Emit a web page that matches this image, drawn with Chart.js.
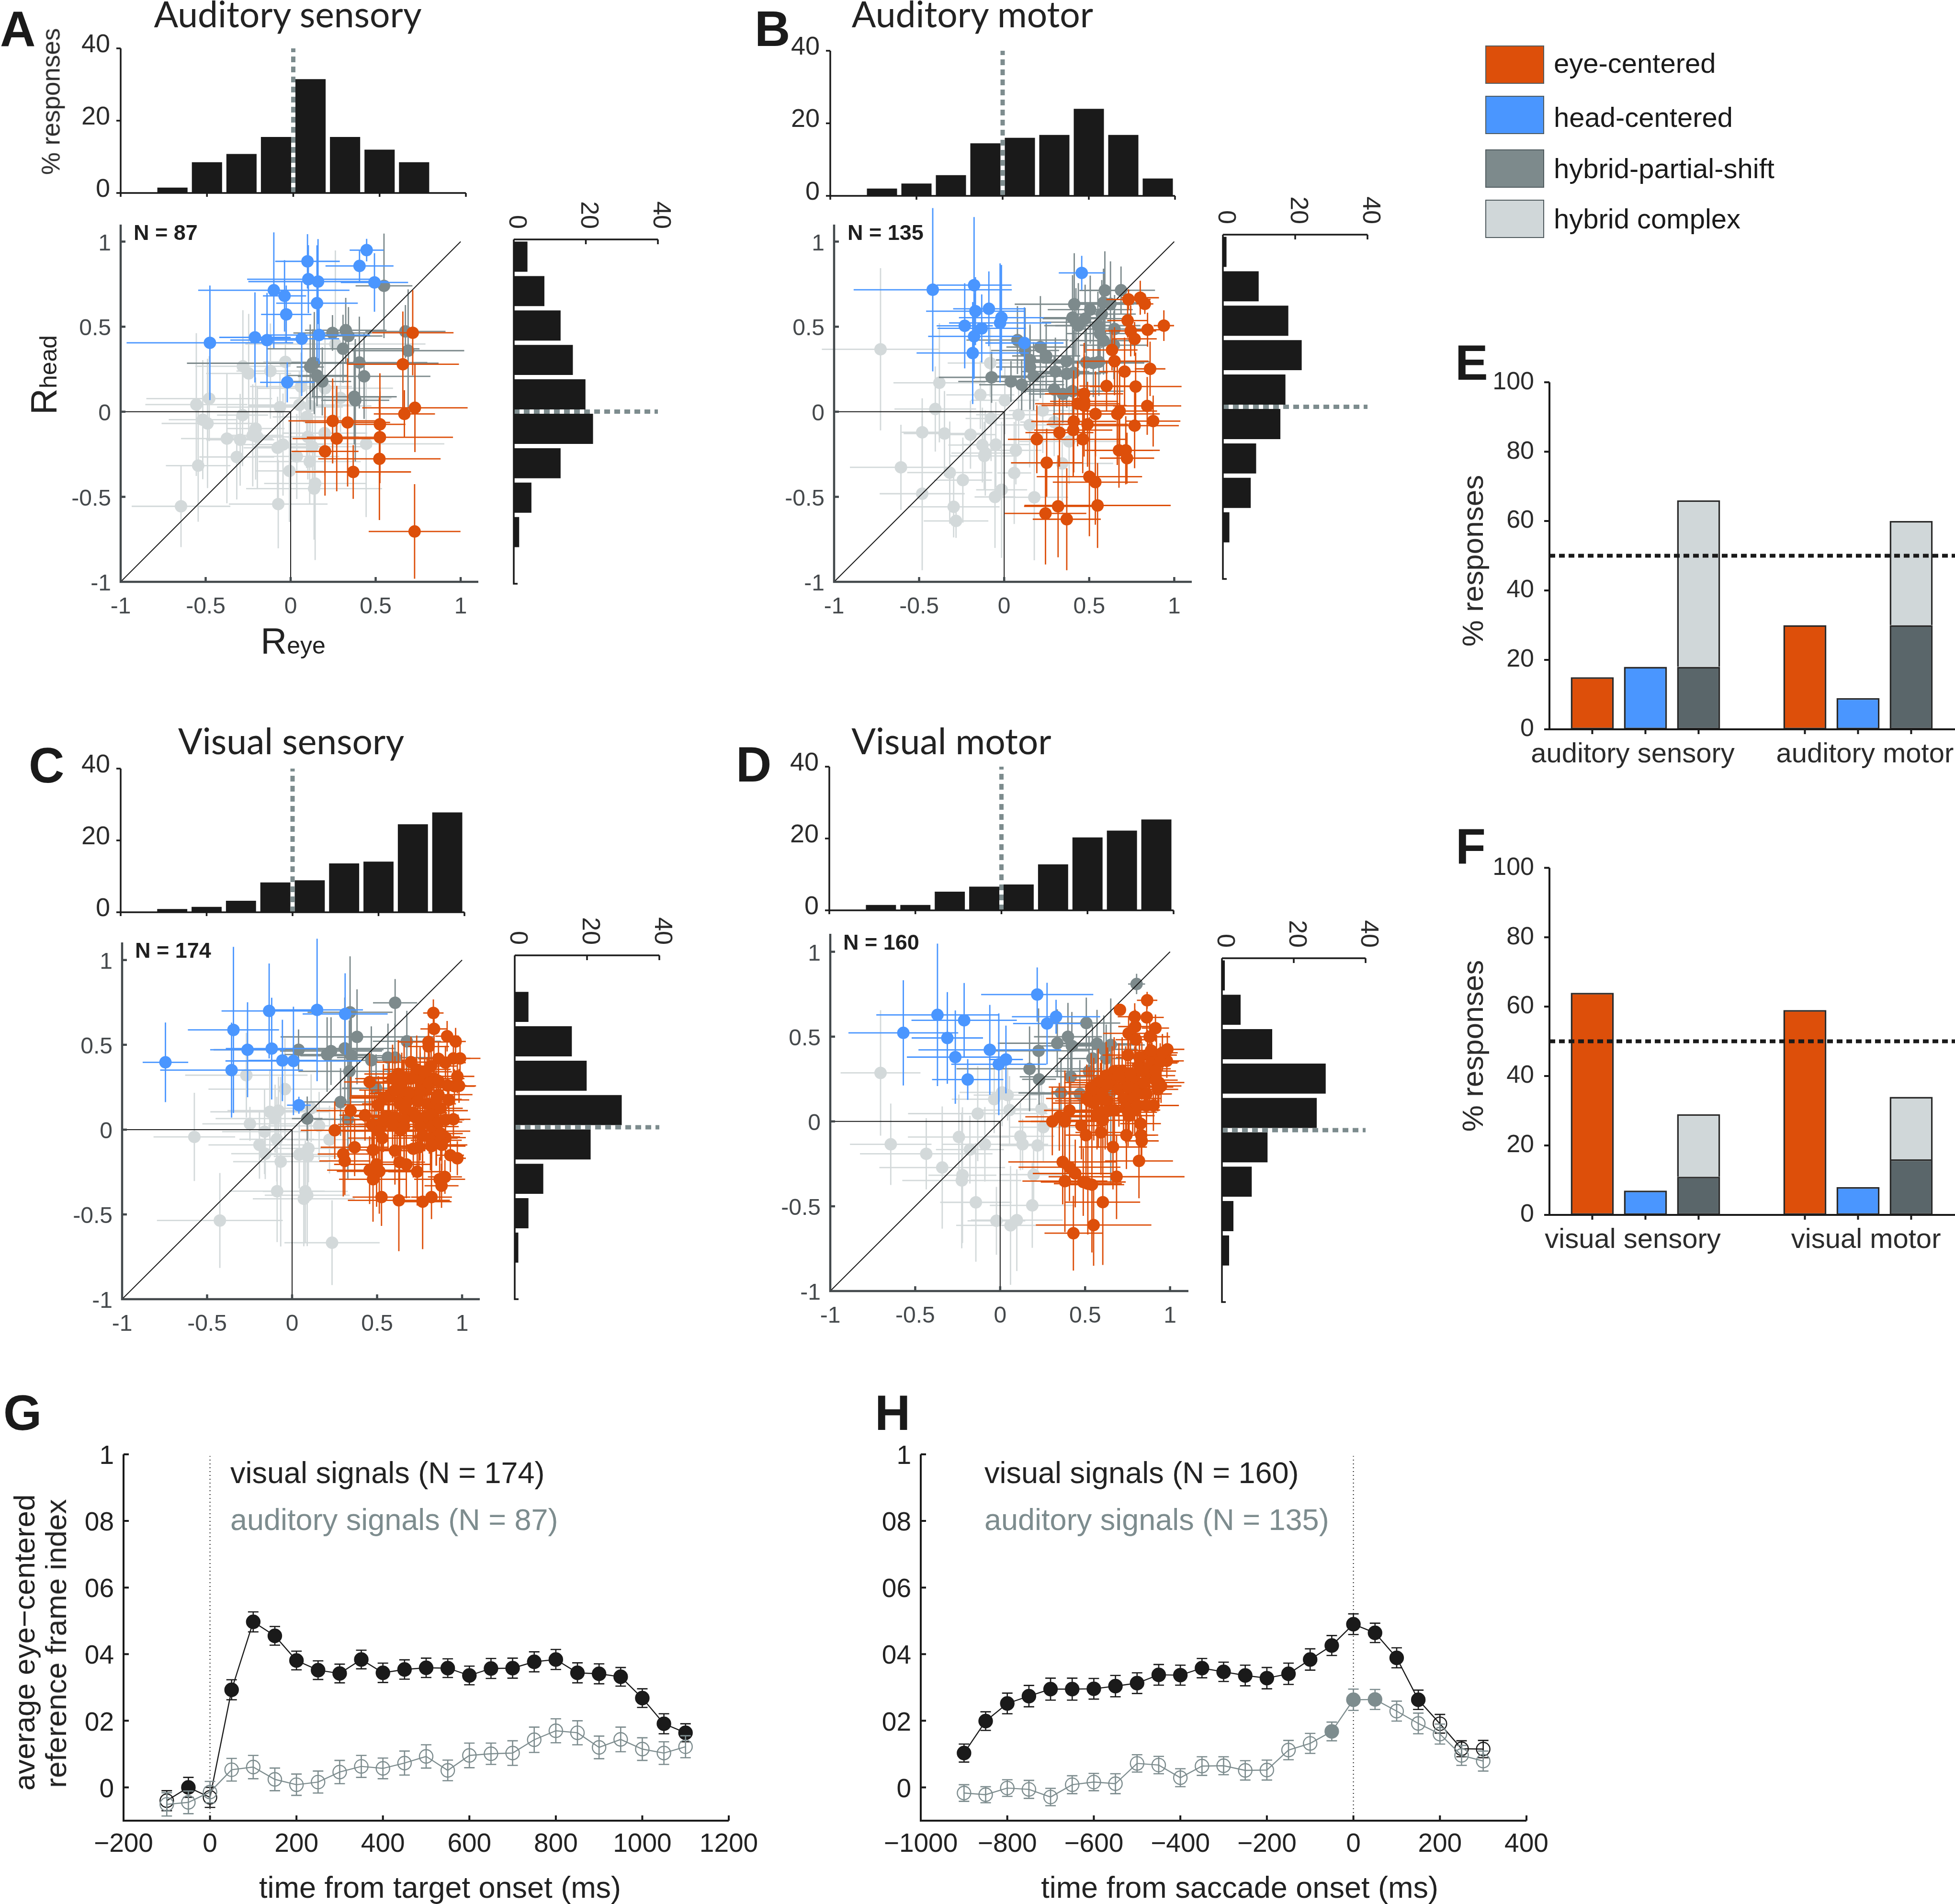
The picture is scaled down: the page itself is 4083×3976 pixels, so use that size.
<!DOCTYPE html>
<html>
<head>
<meta charset="utf-8">
<title>Reference frames</title>
<script src="https://cdn.jsdelivr.net/npm/chart.js@4"></script>
<style>
html, body { margin: 0; padding: 0; background: #fff; }
#page { position: relative; width: 4083px; height: 3976px; overflow: hidden; background: #fff; }
#page canvas { position: absolute; }
.txt { position: absolute; white-space: nowrap; line-height: 1; font-family: "Liberation Sans", Arial, sans-serif; }
</style>
</head>
<body>
<div id="page"></div>
<script>
// histogram bins, shared by all the marginal plots
const binCenters = [-0.9, -0.7, -0.5, -0.3, -0.1, 0.1, 0.3, 0.5, 0.7, 0.9];
const histTicks = [0, 20, 40];
const rTicks = [-1, -0.5, 0, 0.5, 1];

// marginal histograms (% responses per bin)
const aEyeHist = [0, 1.5, 8.5, 10.8, 15.5, 31.5, 15.5, 12, 8.5, 0];
const aHeadHist = [0, 1.5, 4.9, 13, 22, 19.9, 16.4, 13, 8.5, 3.8];
const bEyeHist = [0, 2, 3.4, 5.7, 14.5, 16, 16.8, 24, 16.8, 4.8];
const bHeadHist = [0, 1.8, 7.7, 9.2, 15.9, 17.3, 21.8, 18.1, 9.9, 1];
const cEyeHist = [0, 0.9, 1.5, 3.2, 8.3, 8.9, 13.6, 14.1, 24.5, 27.8];
const cHeadHist = [0, 1, 3.8, 7.9, 21, 29.6, 19.9, 15.8, 3.8, 0];
const dEyeHist = [0, 1.5, 1.5, 5.2, 6.6, 7.2, 12.8, 20.3, 22.2, 25.3];
const dHeadHist = [0, 2, 3.2, 8.3, 12.7, 26.4, 28.9, 14, 5.2, 0.8];

// scatter rows are [Reye, Rhead, error in Reye, error in Rhead]
const aHead = [[-.475,.405,.49,.337],[.099,.884,.19,.16],[.104,.779,.36,.2],[.161,.765,.41,.25],[-.099,.714,.445,.34],[-.036,.681,.127,.21],[.155,.638,.24,.34],[-.026,.572,.148,.17],[.447,.95,.1,.066],[.405,.857,.2,.09],[.493,.76,.198,.172],[-.21,.437,.21,.265],[-.139,.421,.216,.277],[.065,.429,.22,.337],[.167,.451,.3,.17],[-.02,.173,.16,.118]];
const aPartial = [[.549,.74,.167,.307],[.246,.463,.23,.105],[.324,.479,.24,.19],[.34,.445,.2,.17],[.308,.37,.45,.2],[.675,.472,.236,.155],[.691,.359,.33,.36],[.13,.285,.74,.2],[.139,.286,.2,.3],[.115,.263,.08,.25],[.155,.213,.18,.18],[.186,.178,.17,.2],[.404,.289,.4,.27],[.432,.208,.39,.25],[.374,.088,.25,.28],[.38,.067,.2,.36]];
const aEye = [[.718,.464,.24,.25],[.66,.279,.33,.31],[.731,.023,.31,.26],[.669,-.013,.18,.14],[.247,-.054,.26,.25],[.335,-.063,.25,.377],[.525,-.074,.15,.3],[.525,-.15,.43,.27],[.271,-.158,.26,.31],[.202,-.233,.197,.26],[.522,-.277,.36,.36],[.368,-.354,.34,.158],[.729,-.704,.27,.278]];
const aComplex = [[-.645,-.556,.29,.24],[-.544,-.317,.19,.33],[-.555,.042,.3,.42],[-.479,.077,.37,.25],[-.517,-.047,.2,.35],[-.489,-.069,.27,.38],[-.283,-.02,.15,.3],[-.281,.267,.28,.33],[-.247,.225,.25,.35],[-.119,.239,.2,.28],[-.031,.293,.13,.25],[-.375,-.158,.27,.38],[-.297,-.165,.2,.27],[-.206,-.099,.17,.3],[-.223,-.139,.18,.3],[-.196,-.148,.15,.3],[-.317,-.266,.22,.25],[-.077,-.212,.2,.3],[-.045,-.193,.25,.3],[-.063,.027,.37,.2],[.061,.148,.3,.2],[.202,.138,.4,.3],[.263,.398,.53,.55],[.051,.04,.3,.2],[.115,.034,.36,.2],[.094,-.031,.2,.3],[.293,.081,.3,.2],[.2,-.126,.25,.25],[.101,-.148,.3,.25],[.128,-.206,.35,.2],[.444,-.189,.46,.43],[.036,-.263,.25,.25],[.112,-.293,.3,.25],[-.007,-.348,.2,.3],[.144,-.422,.3,.45],[.138,-.452,.4,.3],[-.073,-.543,.29,.26]];

const bHead = [[-.42,.717,.465,.48],[-.177,.744,.22,.4],[-.169,.591,.29,.2],[-.09,.605,.21,.22],[-.016,.553,.25,.31],[-.024,.522,.3,.35],[-.232,.505,.165,.25],[-.132,.49,.26,.2],[-.177,.443,.27,.25],[-.185,.345,.33,.3],[.119,.404,.23,.21],[.456,.816,.135,.1]];
const bPartial = [[.592,.713,.15,.23],[.687,.714,.2,.14],[.412,.632,.35,.3],[.584,.641,.2,.2],[.625,.634,.2,.25],[.506,.6,.25,.2],[.402,.553,.2,.25],[.476,.547,.25,.2],[.436,.506,.2,.25],[.422,.526,.2,.2],[.574,.574,.2,.2],[.551,.506,.25,.2],[.564,.459,.2,.2],[.584,.418,.2,.2],[.649,.486,.2,.2],[.645,.391,.2,.2],[.078,.421,.3,.2],[.123,.36,.2,.25],[.213,.38,.2,.3],[.247,.328,.2,.2],[.152,.304,.2,.2],[.152,.263,.2,.25],[.366,.297,.2,.25],[.483,.29,.3,.2],[.524,.286,.3,.2],[.557,.293,.3,.2],[.301,.236,.2,.2],[.368,.223,.2,.2],[.409,.229,.2,.25],[.173,.209,.25,.2],[-.074,.202,.31,.15],[.04,.178,.31,.12],[.103,.159,.25,.15],[.294,.131,.2,.2],[.345,.104,.2,.17],[.402,.121,.3,.2]];
const bEye = [[.731,.66,.13,.06],[.8,.67,.11,.1],[.827,.634,.05,.06],[.726,.536,.12,.1],[.939,.506,.06,.09],[.744,.475,.15,.15],[.843,.482,.12,.1],[.767,.428,.13,.1],[.634,.363,.15,.12],[.649,.297,.2,.2],[.858,.252,.09,.16],[.708,.236,.15,.2],[.602,.151,.16,.15],[.773,.148,.27,.2],[.47,.105,.23,.3],[.47,.061,.2,.25],[.432,.047,.25,.25],[.47,.036,.25,.3],[.841,.034,.2,.17],[.537,-.013,.25,.25],[.665,-.013,.25,.3],[.679,.004,.22,.25],[.767,-.082,.26,.25],[.876,-.055,.16,.15],[.409,-.057,.25,.3],[.49,-.074,.24,.25],[.406,-.108,.23,.27],[.325,-.123,.2,.2],[.192,-.162,.17,.2],[.462,-.162,.25,.2],[.675,-.227,.2,.22],[.715,-.227,.2,.2],[.722,-.273,.16,.15],[.25,-.3,.21,.2],[.501,-.382,.31,.35],[.536,-.414,.25,.25],[.549,-.551,.43,.25],[.317,-.556,.2,.3],[.243,-.598,.24,.3],[.368,-.632,.2,.3]];
const bComplex = [[-.727,.367,.345,.477],[-.381,.17,.27,.35],[-.14,.099,.2,.2],[-.405,.016,.24,.25],[-.082,.286,.25,.2],[.004,.067,.2,.2],[-.077,-.04,.15,.25],[.085,-.018,.25,.2],[.227,.007,.2,.25],[.15,-.078,.2,.25],[.294,-.061,.2,.2],[-.482,-.121,.12,.2],[-.351,-.128,.24,.25],[-.198,-.135,.15,.2],[-.128,-.196,.2,.22],[-.049,-.193,.2,.25],[-.111,-.243,.2,.25],[-.117,-.26,.2,.2],[.069,-.227,.15,.2],[.382,-.175,.3,.25],[-.607,-.327,.3,.25],[-.32,-.358,.25,.3],[-.243,-.402,.17,.25],[.059,-.36,.1,.3],[.341,-.304,.3,.3],[-.482,-.482,.25,.45],[-.015,-.459,.15,.4],[-.054,-.501,.12,.3],[.177,-.503,.2,.37],[-.297,-.559,.27,.18],[-.283,-.642,.19,.1]];

const cHead = [[-.745,.397,.134,.235],[-.345,.588,.268,.49],[-.262,.471,.22,.28],[-.135,.7,.28,.28],[.147,.706,.27,.42],[.312,.682,.25,.24],[-.12,.478,.27,.3],[-.057,.408,.2,.24],[.008,.405,.4,.32],[-.356,.351,.42,.28],[.04,.144,.07,.05]];
const cPartial = [[.606,.748,.13,.14],[.341,.692,.25,.33],[.382,.547,.45,.28],[.038,.471,.5,.12],[.229,.463,.3,.2],[.206,.443,.25,.22],[.31,.479,.3,.3],[.348,.436,.3,.25],[.466,.409,.25,.2],[.564,.425,.3,.2],[.605,.425,.25,.2],[.675,.521,.2,.18],[.337,.344,.3,.3],[.285,.163,.25,.2],[.494,.244,.2,.2],[.328,.061,.2,.35],[.089,.065,.09,.13]];
const cEye = [[.831,.688,.06,.08],[.835,.594,.08,.11],[.912,.551,.07,.09],[.962,.52,.06,.08],[.802,.517,.18,.11],[.803,.49,.12,.12],[.861,.418,.12,.1],[.949,.42,.1,.09],[.988,.42,.12,.1],[.699,.398,.2,.15],[.818,.375,.15,.12],[.902,.395,.12,.1],[.733,.355,.2,.2],[.625,.328,.2,.2],[.659,.308,.2,.2],[.972,.314,.1,.1],[.753,.287,.22,.2],[.834,.301,.18,.18],[.955,.256,.12,.1],[.456,.281,.15,.17],[.982,.258,.1,.1],[.652,.213,.2,.2],[.794,.247,.2,.18],[.571,.193,.22,.2],[.537,.186,.2,.2],[.507,.146,.2,.17],[.672,.166,.2,.2],[.74,.179,.2,.2],[.861,.206,.2,.2],[.922,.175,.12,.1],[.713,.099,.2,.2],[.834,.112,.2,.2],[.344,.112,.2,.2],[.429,.085,.15,.15],[.564,.078,.2,.2],[.618,.051,.2,.2],[.949,.061,.1,.1],[.807,.058,.15,.2],[.47,.031,.2,.2],[.524,.018,.2,.2],[.638,-.003,.2,.2],[.251,-.004,.2,.17],[.848,-.009,.2,.2],[.53,-.05,.2,.2],[.902,-.047,.12,.12],[.848,-.063,.15,.15],[.368,-.104,.2,.17],[.476,-.12,.17,.2],[.605,-.124,.17,.2],[.713,-.113,.2,.17],[.746,-.104,.17,.17],[.82,-.097,.2,.17],[.881,-.09,.15,.15],[.301,-.144,.15,.25],[.31,-.185,.15,.2],[.931,-.151,.08,.1],[.972,-.169,.05,.1],[.632,-.192,.15,.2],[.672,-.205,.15,.2],[.497,-.205,.25,.25],[.456,-.239,.25,.2],[.513,-.246,.25,.25],[.476,-.293,.2,.25],[.736,-.248,.17,.2],[.868,-.293,.15,.13],[.899,-.279,.1,.1],[.879,-.331,.1,.13],[.526,-.398,.17,.17],[.628,-.417,.3,.3],[.768,-.425,.17,.28],[.82,-.398,.12,.13],
    [.591,.301,.22,.2],[.645,.274,.2,.18],[.699,.301,.18,.2],[.78,.341,.16,.17],[.753,.233,.2,.22],[.807,.274,.16,.18],[.861,.287,.14,.16],[.686,.22,.2,.18],[.74,.166,.18,.22],[.794,.152,.17,.2],[.848,.179,.15,.17],[.632,.152,.22,.2],[.672,.112,.2,.19],[.726,.072,.18,.21],[.78,.072,.17,.2],[.82,.085,.16,.18],[.874,.126,.13,.15],[.605,.072,.21,.2],[.659,.058,.19,.22],[.753,.018,.18,.2],[.82,.018,.16,.19],[.861,.045,.14,.16],[.571,.2,.23,.18],[.605,.233,.21,.2],[.915,.26,.11,.13],[.659,.018,.2,.22],[.767,-.036,.17,.21],[.814,-.05,.16,.19],[.848,-.043,.14,.17],[.874,-.023,.13,.16],[.483,.018,.24,.2],[.51,-.009,.22,.22],[.537,.058,.23,.19],[.902,.058,.11,.14],[.591,.031,.2,.2],[.82,-.09,.15,.17]];
const cComplex = [[-.575,-.043,.24,.26],[-.425,-.536,.37,.28],[.235,-.667,.28,.25],[-.088,-.363,.28,.3],[.078,-.364,.25,.3],[.089,-.387,.25,.3],[.069,-.408,.3,.28],[-.269,.321,.36,.25],[-.042,.239,.45,.3],[-.131,.105,.35,.25],[-.08,.112,.3,.2],[-.1,.065,.35,.2],[-.248,.034,.28,.1],[-.162,-.012,.25,.25],[-.09,-.057,.22,.25],[-.192,-.09,.3,.2],[-.158,-.142,.2,.15],[-.067,-.189,.28,.5],[.042,-.147,.2,.2],[.096,-.111,.2,.2],[.092,-.158,.2,.2],[.159,.022,.3,.2],[.112,.126,.2,.2],[.22,-.059,.25,.2]];

const dHead = [[-.57,.522,.323,.31],[-.369,.628,.36,.42],[-.212,.596,.31,.22],[-.311,.492,.21,.27],[-.264,.379,.285,.275],[-.061,.422,.42,.265],[.034,.365,.1,.2],[-.008,.337,.28,.3],[-.191,.247,.21,.12],[.218,.748,.33,.16],[.329,.617,.26,.1],[.276,.577,.2,.24]];
const dPartial = [[.803,.81,.05,.06],[.507,.58,.2,.15],[.399,.499,.2,.2],[.336,.461,.35,.2],[.422,.445,.2,.2],[.226,.416,.3,.25],[.57,.458,.25,.2],[.651,.451,.2,.2],[.61,.425,.2,.2],[.543,.371,.2,.2],[.624,.371,.2,.2],[.173,.31,.43,.25],[.229,.248,.1,.15],[.523,.296,.2,.2],[.415,.263,.3,.25],[.358,.168,.25,.2],[.469,.162,.3,.2],[.651,.175,.2,.55]];
const dEye = [[.865,.714,.06,.05],[.705,.658,.03,.03],[.792,.617,.1,.08],[.863,.613,.1,.1],[.795,.559,.1,.1],[.914,.55,.08,.08],[.756,.519,.15,.1],[.799,.482,.12,.1],[.88,.499,.12,.1],[.984,.425,.1,.1],[.752,.391,.15,.13],[.92,.391,.12,.12],[.867,.391,.15,.15],[.981,.357,.1,.1],[.819,.33,.15,.15],[.894,.344,.15,.12],[.671,.296,.2,.2],[.718,.296,.2,.2],[.624,.27,.2,.2],[.577,.229,.2,.2],[.536,.202,.25,.2],[.739,.243,.2,.2],[.792,.243,.2,.2],[.88,.27,.15,.15],[.934,.229,.15,.15],[.947,.209,.12,.1],[.819,.202,.2,.2],[.523,.121,.2,.2],[.597,.162,.2,.2],[.631,.121,.2,.2],[.739,.121,.2,.2],[.806,.162,.2,.2],[.902,.094,.15,.15],[.408,.065,.15,.2],[.631,.061,.2,.2],[.57,.034,.2,.2],[.759,.034,.15,.15],[.792,.067,.15,.15],[.348,.027,.2,.2],[.307,0,.2,.2],[.381,0,.2,.3],[.604,.007,.2,.15],[.826,-.013,.12,.12],[.478,-.024,.12,.2],[.505,-.081,.12,.3],[.593,-.065,.15,.25],[.743,-.081,.17,.2],[.83,-.081,.1,.12],[.833,-.115,.1,.12],[.664,-.151,.2,.25],[.817,-.233,.2,.22],[.368,-.239,.32,.25],[.408,-.27,.3,.2],[.442,-.307,.25,.2],[.685,-.326,.4,.25],[.381,-.352,.25,.3],[.489,-.357,.25,.2],[.516,-.367,.2,.3],[.54,-.373,.19,.4],[.604,-.476,.22,.37],[.55,-.611,.34,.24],[.431,-.659,.17,.22],
    [.659,.243,.22,.2],[.699,.27,.2,.19],[.767,.283,.18,.2],[.834,.297,.15,.17],[.874,.31,.13,.15],[.942,.351,.11,.11],[.632,.216,.22,.22],[.551,.175,.25,.2],[.591,.135,.22,.21],[.699,.189,.2,.22],[.753,.202,.18,.2],[.848,.229,.15,.17],[.915,.243,.13,.14],[.726,.135,.19,.2],[.78,.135,.17,.21],[.861,.162,.15,.17],[.928,.189,.12,.13],[.551,.108,.24,.22],[.672,.067,.2,.23],[.74,.081,.18,.21],[.807,.094,.16,.19],[.861,.094,.14,.16],[.51,.135,.24,.2],[.618,.054,.21,.22],[.753,.054,.17,.2],[.578,.054,.22,.21],[.915,.297,.12,.14],[.955,.405,.09,.11],[.888,.418,.12,.12],[.82,.378,.14,.14]];
const dComplex = [[-.704,.286,.235,.37],[-.644,-.135,.24,.24],[-.435,-.191,.39,.21],[-.341,-.272,.37,.36],[-.243,-.092,.3,.25],[-.132,.046,.41,.28],[-.035,.131,.25,.2],[.011,.171,.25,.2],[.044,.155,.2,.15],[.055,.067,.2,.2],[-.178,-.166,.2,.2],[-.09,-.135,.25,.22],[.119,-.088,.2,.2],[.132,-.135,.15,.15],[.22,-.142,.22,.2],[.254,-.034,.2,.2],[.243,.074,.2,.2],[-.222,-.317,.2,.4],[-.226,-.348,.35,.4],[.197,-.314,.2,.2],[-.143,-.477,.21,.35],[.189,-.495,.25,.25],[-.022,-.586,.17,.2],[.098,-.582,.27,.3],[.061,-.613,.32,.35]];

// E, F: bar positions on the x axis and % responses per class
const barTicks = [1, 2, 3, 5, 6, 7];
const pctTicks = [0, 20, 40, 60, 80, 100];
const eEyePct = [15, 30];
const eHeadPct = [18, 9];
const ePartialPct = [18, 30];
const eComplexPct = [48, 30];
const fEyePct = [64, 59];
const fHeadPct = [7, 8];
const fPartialPct = [11, 16];
const fComplexPct = [18, 18];
const eGroupTicks = [1.762, 6.13];
const eGroupLabels = ["auditory sensory", "auditory motor"];
const fGroupTicks = [1.762, 6.15];
const fGroupLabels = ["visual sensory", "visual motor"];

// G, H: time courses
const indexTicks = [0, 0.2, 0.4, 0.6, 0.8, 1];
const indexLabels = ["0", "02", "04", "06", "08", "1"];
const gTime = [-100, -50, 0, 50, 100, 150, 200, 250, 300, 350, 400, 450, 500, 550, 600, 650, 700, 750, 800, 850, 900, 950, 1000, 1050, 1100];
const gVisual = [-.04, 0, -.03, .293, .497, .455, .381, .352, .342, .384, .344, .354, .359, .358, .336, .357, .358, .377, .384, .344, .341, .332, .268, .191, .164];
const gVisualErr = [.03, .03, .03, .03, .03, .028, .028, .028, .028, .028, .029, .029, .029, .028, .028, .03, .03, .03, .03, .03, .03, .028, .028, .03, .027];
const gVisualOpen = [-100, 0];
const gAuditory = [-.051, -.045, -.014, .053, .061, .024, .008, .016, .046, .063, .057, .073, .093, .051, .096, .101, .103, .143, .17, .164, .12, .144, .115, .103, .122];
const gAuditoryErr = [.035, .034, .032, .034, .035, .034, .032, .033, .035, .033, .031, .036, .035, .031, .037, .032, .037, .038, .036, .036, .034, .037, .034, .034, .033];
const gAuditoryFilled = [];
const hTime = [-900, -850, -800, -750, -700, -650, -600, -550, -500, -450, -400, -350, -300, -250, -200, -150, -100, -50, 0, 50, 100, 150, 200, 250, 300];
const hVisual = [.103, .199, .252, .274, .295, .295, .296, .304, .313, .338, .337, .358, .347, .336, .328, .341, .384, .426, .49, .464, .389, .263, .191, .116, .115];
const hVisualErr = [.027, .028, .031, .032, .033, .033, .031, .032, .031, .031, .03, .029, .029, .031, .032, .032, .032, .03, .031, .029, .03, .029, .028, .024, .026];
const hVisualOpen = [200, 250, 300];
const hAuditory = [-.017, -.022, -.002, -.006, -.029, .008, .016, .011, .072, .067, .029, .064, .065, .051, .052, .112, .132, .168, .263, .264, .229, .192, .16, .096, .079];
const hAuditoryErr = [.025, .024, .025, .027, .026, .027, .026, .03, .026, .026, .027, .028, .027, .029, .03, .029, .03, .028, .032, .03, .03, .031, .03, .03, .03];
const hAuditoryFilled = [-50, 0, 50];

const legendLabels = ["eye-centered", "head-centered", "hybrid-partial-shift", "hybrid complex"];

const ORANGE = "#dd4f0a", BLUE = "#4a96ff", GRAY = "#7d8a8c", LIGHT = "#d3d9da";
const BAR_GRAY = "#5a666a", BAR_LIGHT = "#d0d7d9", INK = "#1a1a1a", MEDIAN = "#7d8c8e", AXIS = "#43494c", TICK = "#45494c";
const legendColors = [ORANGE, BLUE, GRAY, BAR_LIGHT];

Chart.defaults.font.family = '"Liberation Sans", Arial, sans-serif';
Chart.defaults.animation = false;

// error bars go under the marker of the same dataset
Chart.register({
    id: "errorBars",
    beforeDatasetDraw(chart, args) {
        const ds = chart.data.datasets[args.index];
        if (!ds.errorBars) return;
        const { ctx, scales } = chart;
        ctx.save();
        ctx.strokeStyle = ds.errorColor;
        ctx.lineWidth = ds.errorWidth;
        ds.data.forEach((p) => {
            const px = scales.x.getPixelForValue(p.x), py = scales.y.getPixelForValue(p.y);
            ctx.beginPath();
            if (p.ex) {
                ctx.moveTo(scales.x.getPixelForValue(p.x - p.ex), py);
                ctx.lineTo(scales.x.getPixelForValue(p.x + p.ex), py);
            }
            const y0 = scales.y.getPixelForValue(p.y - p.ey), y1 = scales.y.getPixelForValue(p.y + p.ey);
            ctx.moveTo(px, y0);
            ctx.lineTo(px, y1);
            if (ds.errorCap) {
                ctx.moveTo(px - ds.errorCap, y0);
                ctx.lineTo(px + ds.errorCap, y0);
                ctx.moveTo(px - ds.errorCap, y1);
                ctx.lineTo(px + ds.errorCap, y1);
            }
            ctx.stroke();
        });
        ctx.restore();
    },
});

// MATLAB style axes: spines with ticks going in or out
Chart.register({
    id: "spines",
    afterDraw(chart, _args, o) {
        if (!o.color) return;
        const { ctx, chartArea: a, scales } = chart;
        const yLine = o.xSide === "top" ? a.top : a.bottom;
        ctx.save();
        ctx.strokeStyle = o.color;
        ctx.lineWidth = o.width;
        ctx.beginPath();
        ctx.moveTo(a.left, yLine);
        ctx.lineTo(a.right, yLine);
        ctx.moveTo(a.left, a.top);
        ctx.lineTo(a.left, a.bottom + o.width / 2);
        (o.xMarks || []).forEach((v) => {
            const px = scales.x.getPixelForValue(v);
            ctx.moveTo(px, yLine);
            ctx.lineTo(px, yLine + o.xLen);
        });
        (o.yMarks || []).forEach((v) => {
            const py = scales.y.getPixelForValue(v);
            ctx.moveTo(a.left, py);
            ctx.lineTo(a.left + o.yLen, py);
        });
        ctx.stroke();
        // rotated labels of the side histograms
        if (o.sideLabels) {
            ctx.fillStyle = o.sideLabels.color;
            ctx.font = o.sideLabels.font;
            ctx.textAlign = "right";
            ctx.textBaseline = "middle";
            o.xMarks.forEach((v) => {
                ctx.save();
                ctx.translate(scales.x.getPixelForValue(v) + 5, a.top - o.sideLabels.gap);
                ctx.rotate(Math.PI / 2);
                ctx.fillText(String(v), 0, 0);
                ctx.restore();
            });
        }
        ctx.restore();
    },
});

const page = document.getElementById("page");

function makeChart(box, margin, config) {
    const c = document.createElement("canvas");
    const w = box.r - box.l + margin.l + margin.r, h = box.b - box.t + margin.t + margin.b;
    c.width = Math.round(w);
    c.height = Math.round(h);
    c.style.left = box.l - margin.l + "px";
    c.style.top = box.t - margin.t + "px";
    page.appendChild(c);
    const opt = config.options;
    opt.responsive = false;
    opt.devicePixelRatio = 1;
    opt.events = [];
    opt.layout = { padding: { left: 0, top: margin.t, right: margin.r, bottom: 0 } };
    opt.plugins = Object.assign({ legend: { display: false }, tooltip: { enabled: false } }, opt.plugins);
    opt.scales.x.afterFit = (s) => { s.height = margin.b; };
    opt.scales.y.afterFit = (s) => { s.width = margin.l; };
    return new Chart(c, config);
}

function linearAxis(min, max, ticks, fontSize, padding, labels, color, hidden, labelOffset) {
    return {
        type: "linear",
        min: min,
        max: max,
        offset: false,
        border: { display: false },
        grid: { display: false, drawTicks: false },
        afterBuildTicks: (s) => { s.ticks = ticks.map((v) => ({ value: v })); },
        ticks: {
            display: !hidden,
            autoSkip: false,
            maxRotation: 0,
            minRotation: 0,
            padding: padding,
            labelOffset: labelOffset || 0,
            color: color,
            font: { size: fontSize },
            callback: (v, i) => (labels ? labels[i] : String(v)),
        },
    };
}

function medianLine(points) {
    return {
        type: "scatter",
        showLine: true,
        data: points,
        pointRadius: 0,
        borderColor: MEDIAN,
        borderWidth: 9,
        borderDash: [12, 9],
        order: 0,
        clip: false,
    };
}

function topHist(box, values) {
    makeChart(box, { l: 120, t: 70, r: 40, b: 70 }, {
        type: "bar",
        data: {
            datasets: [
                medianLine([{ x: 0, y: 0 }, { x: 0, y: 40 }]),
                {
                    data: binCenters.map((x, i) => ({ x: x, y: values[i] })),
                    backgroundColor: INK,
                    categoryPercentage: 1,
                    barPercentage: 0.875,
                    order: 1,
                },
            ],
        },
        options: {
            scales: {
                x: linearAxis(-1, 1, rTicks, 10, 0, null, INK, true),
                y: linearAxis(0, 40, histTicks, 54, 22, null, "#2b2b2b", false, -7),
            },
            plugins: { spines: { color: INK, width: 3.5, xMarks: rTicks, xLen: 8, yMarks: histTicks, yLen: -9 } },
        },
    });
}

function sideHist(box, values) {
    makeChart(box, { l: 20, t: 90, r: 30, b: 20 }, {
        type: "bar",
        data: {
            datasets: [
                medianLine([{ x: 0, y: 0 }, { x: 40, y: 0 }]),
                {
                    data: binCenters.map((y, i) => ({ y: y, x: values[i] })),
                    backgroundColor: INK,
                    categoryPercentage: 1,
                    barPercentage: 0.875,
                    order: 1,
                },
            ],
        },
        options: {
            indexAxis: "y",
            scales: {
                x: linearAxis(0, 40, histTicks, 10, 0, null, INK, true),
                y: linearAxis(-1, 1, [-1], 10, 0, null, INK, true),
            },
            plugins: {
                spines: {
                    color: INK, width: 3.5, xSide: "top", xMarks: histTicks, xLen: 10, yMarks: [-1], yLen: 8,
                    sideLabels: { color: "#2b2b2b", font: '52px "Liberation Sans"', gap: 22 },
                },
            },
        },
    });
}

function scatterClass(rows, color, order) {
    return {
        type: "scatter",
        data: rows.map((r) => ({ x: r[0], y: r[1], ex: r[2], ey: r[3] })),
        backgroundColor: color,
        pointRadius: 13,
        pointBorderWidth: 0,
        errorBars: true,
        errorColor: color,
        errorWidth: 2.8,
        order: order,
        clip: false,
    };
}

function scatterPanel(box, xMax, yMax, complex, partial, eye, head) {
    makeChart(box, { l: 130, t: 60, r: 60, b: 90 }, {
        type: "scatter",
        data: {
            datasets: [
                scatterClass(complex, LIGHT, 5),
                scatterClass(partial, GRAY, 4),
                {
                    showLine: true, pointRadius: 0, borderColor: INK, borderWidth: 2,
                    data: [{ x: -1, y: -1 }, { x: 1, y: 1 }], order: 3,
                },
                {
                    showLine: true, pointRadius: 0, borderColor: INK, borderWidth: 2,
                    data: [{ x: -1, y: 0 }, { x: 0, y: 0 }, { x: 0, y: -1 }], order: 3,
                },
                scatterClass(eye, ORANGE, 2),
                scatterClass(head, BLUE, 1),
            ],
        },
        options: {
            scales: {
                x: linearAxis(-1, xMax, rTicks, 48, 24, null, TICK),
                y: linearAxis(-1, yMax, rTicks, 48, 20, null, TICK, false, 5),
            },
            plugins: { spines: { color: AXIS, width: 4.5, xMarks: rTicks, xLen: -10, yMarks: rTicks, yLen: 10 } },
        },
    });
}

function stackedPanel(box, eye, head, partial, complex, groupTicks, groupLabels) {
    const border = { borderColor: "#2a2a2a", borderWidth: 3.5, borderSkipped: false, categoryPercentage: 1, barPercentage: 0.81 };
    makeChart(box, { l: 120, t: 60, r: 100, b: 100 }, {
        type: "bar",
        data: {
            datasets: [
                {
                    type: "scatter", showLine: true, pointRadius: 0, order: 0,
                    borderColor: INK, borderWidth: 8, borderDash: [12, 8],
                    data: [{ x: 0.194, y: 50 }, { x: 8, y: 50 }],
                },
                Object.assign({ data: [{ x: barTicks[0], y: eye[0] }, { x: barTicks[3], y: eye[1] }], backgroundColor: ORANGE, order: 1 }, border),
                Object.assign({ data: [{ x: barTicks[1], y: head[0] }, { x: barTicks[4], y: head[1] }], backgroundColor: BLUE, order: 2 }, border),
                Object.assign({ data: [{ x: barTicks[2], y: partial[0] }, { x: barTicks[5], y: partial[1] }], backgroundColor: BAR_GRAY, order: 3 }, border),
                Object.assign({ data: [{ x: barTicks[2], y: complex[0] }, { x: barTicks[5], y: complex[1] }], backgroundColor: BAR_LIGHT, order: 4 }, border,
                    { borderWidth: { top: 3.5, left: 3.5, right: 3.5, bottom: 0 } }),
            ],
        },
        options: {
            scales: {
                x: Object.assign(linearAxis(0.194, 0.194 + (box.r - box.l) / 111, groupTicks, 58, 18, groupLabels, "#2b2b2b"), { stacked: true }),
                y: Object.assign(linearAxis(0, 100, pctTicks, 52, 32, null, "#2b2b2b"), { stacked: true }),
            },
            plugins: { spines: { color: INK, width: 4, xMarks: barTicks, xLen: 10, yMarks: pctTicks, yLen: -11 } },
        },
    });
}

function traceData(xs, ys, errs) {
    return xs.map((x, i) => ({ x: x, y: ys[i], ey: errs[i] }));
}

function timePanel(box, xMin, xMax, xTicks, xLabels, time, visual, visualErr, visualOpen, auditory, auditoryErr, auditoryFilled) {
    const trace = (ys, errs, color, isFilled, order) => ({
        type: "scatter",
        showLine: true,
        data: traceData(time, ys, errs),
        borderColor: color,
        borderWidth: 2.4,
        pointRadius: 14,
        pointBorderColor: color,
        pointBorderWidth: 2.4,
        pointBackgroundColor: time.map((t) => (isFilled(t) ? color : "rgba(0,0,0,0)")),
        errorBars: true,
        errorColor: color,
        errorWidth: 2.6,
        errorCap: 11,
        order: order,
        clip: false,
    });
    makeChart(box, { l: 130, t: 60, r: 110, b: 100 }, {
        type: "scatter",
        data: {
            datasets: [
                {
                    showLine: true, pointRadius: 0, borderColor: INK, borderWidth: 2, borderDash: [2, 6],
                    data: [{ x: 0, y: -0.1 }, { x: 0, y: 0.995 }], order: 3,
                },
                trace(visual, visualErr, INK, (t) => !visualOpen.includes(t), 2),
                trace(auditory, auditoryErr, MEDIAN, (t) => auditoryFilled.includes(t), 1),
            ],
        },
        options: {
            scales: {
                x: linearAxis(xMin, xMax, xTicks, 55, 17, xLabels, "#222"),
                y: linearAxis(-0.1, 1, indexTicks, 55, 20, indexLabels, "#222", false, 5),
            },
            plugins: { spines: { color: INK, width: 4, xMarks: xTicks, xLen: -11, yMarks: indexTicks, yLen: 11 } },
        },
    });
}

function text(str, x, y, size, opts) {
    const o = opts || {};
    const d = document.createElement("div");
    d.className = "txt";
    d.innerHTML = str;
    d.style.left = x + "px";
    d.style.top = y + "px";
    d.style.fontSize = size + "px";
    d.style.color = o.color || "#1f1f1f";
    if (o.bold) d.style.fontWeight = "bold";
    if (o.family) d.style.fontFamily = o.family;
    const tx = o.left ? "0" : "-50%";
    d.style.transform = "translate(" + tx + ",-50%)" + (o.rot ? " rotate(" + o.rot + "deg)" : "");
    page.appendChild(d);
}

// panels A-D
topHist({ l: 251.5, r: 972.8, t: 101, b: 402.7 }, aEyeHist);
scatterPanel({ l: 251.5, r: 998.7, t: 468.75, b: 1214.3 }, 1.104, 1.1, aComplex, aPartial, aEye, aHead);
sideHist({ l: 1072.7, r: 1374, t: 500, b: 1218.8 }, aHeadHist);

topHist({ l: 1734, r: 2453.6, t: 106, b: 409 }, bEyeHist);
scatterPanel({ l: 1742, r: 2489.3, t: 468.75, b: 1214.3 }, 1.103, 1.1, bComplex, bPartial, bEye, bHead);
sideHist({ l: 2553.6, r: 2855.4, t: 490, b: 1209 }, bHeadHist);

topHist({ l: 251.5, r: 969, t: 1604.8, b: 1904.8 }, cEyeHist);
scatterPanel({ l: 255.2, r: 1002.4, t: 1968, b: 2713.3 }, 1.104, 1.104, cComplex, cPartial, cEye, cHead);
sideHist({ l: 1074.5, r: 1376, t: 1995.4, b: 2713.3 }, cHeadHist);

topHist({ l: 1732, r: 2451, t: 1600.5, b: 1900.5 }, dEyeHist);
scatterPanel({ l: 1734, r: 2482, t: 1950, b: 2696.3 }, 1.108, 1.106, dComplex, dPartial, dEye, dHead);
sideHist({ l: 2551.8, r: 2851.8, t: 2001.4, b: 2719.3 }, dHeadHist);

// panels E, F
stackedPanel({ l: 3236, r: 4100, t: 794.7, b: 1523 }, eEyePct, eHeadPct, ePartialPct, eComplexPct, eGroupTicks, eGroupLabels);
stackedPanel({ l: 3236, r: 4100, t: 1809.4, b: 2537.8 }, fEyePct, fHeadPct, fPartialPct, fComplexPct, fGroupTicks, fGroupLabels);

// panels G, H
timePanel({ l: 258, r: 1522.4, t: 3037.3, b: 3802.5 }, -200, 1200,
    [-200, 0, 200, 400, 600, 800, 1000, 1200], ["\u2212200", "0", "200", "400", "600", "800", "1000", "1200"],
    gTime, gVisual, gVisualErr, gVisualOpen, gAuditory, gAuditoryErr, gAuditoryFilled);
timePanel({ l: 1922.5, r: 3187, t: 3037.3, b: 3802.5 }, -1000, 400,
    [-1000, -800, -600, -400, -200, 0, 200, 400], ["\u22121000", "\u2212800", "\u2212600", "\u2212400", "\u2212200", "0", "200", "400"],
    hTime, hVisual, hVisualErr, hVisualOpen, hAuditory, hAuditoryErr, hAuditoryFilled);

// legend
const legendTops = [95, 200, 312, 417];
const legendMids = [132, 245, 352, 457];
legendLabels.forEach((label, i) => {
    const s = document.createElement("div");
    s.style.cssText = "position:absolute;left:3102px;width:119px;height:76px;box-sizing:content-box;border:2px solid #4f5a5e;";
    s.style.top = legendTops[i] + "px";
    s.style.background = legendColors[i];
    page.appendChild(s);
    text(label, 3245, legendMids[i], 58, { left: true, color: "#1a1a1a" });
});

// panel letters
const LETTER = 103;
[["A", 0, 60], ["B", 1576, 60], ["C", 60, 1598], ["D", 1537, 1596], ["E", 3039, 757], ["F", 3040, 1767], ["G", 7, 2950], ["H", 1827, 2950]]
    .forEach((l) => text(l[0], l[1], l[2], LETTER, { left: true, bold: true, color: "#1a1a1a" }));

// titles
const TITLE = { family: "Lato, sans-serif", color: "#222" };
text("Auditory sensory", 601, 28, 75, TITLE);
text("Auditory motor", 2031, 28, 75, TITLE);
text("Visual sensory", 608, 1546, 75, TITLE);
text("Visual motor", 1987, 1546, 75, TITLE);

// N counts
text("N = 87", 279, 485, 45, { left: true, bold: true });
text("N = 135", 1770, 485, 45, { left: true, bold: true });
text("N = 174", 282, 1984, 45, { left: true, bold: true });
text("N = 160", 1761, 1967, 45, { left: true, bold: true });

// axis titles
text("% responses", 106, 212, 53, { rot: -90, color: "#2b2b2b" });
text('R<span style="font-size:50px">head</span>', 92, 783, 76, { rot: -90, color: "#222" });
text('R<span style="font-size:50px">eye</span>', 612, 1339, 76, { color: "#222" });
text("% responses", 3076, 1171, 62, { rot: -90, color: "#2b2b2b" });
text("% responses", 3076, 2184, 62, { rot: -90, color: "#2b2b2b" });

text("average eye\u2212centered", 51, 3430, 62, { rot: -90, color: "#222" });
text("reference frame index", 117, 3432, 62, { rot: -90, color: "#222" });
text("time from target onset (ms)", 919, 3941, 63, { color: "#222" });
text("time from saccade onset (ms)", 2589, 3941, 63, { color: "#222" });

text("visual signals (N = 174)", 481, 3075, 63, { left: true, color: "#222" });
text("auditory signals (N = 87)", 481, 3173, 63, { left: true, color: MEDIAN });
text("visual signals (N = 160)", 2056, 3075, 63, { left: true, color: "#222" });
text("auditory signals (N = 135)", 2056, 3173, 63, { left: true, color: MEDIAN });
</script>
</body>
</html>
